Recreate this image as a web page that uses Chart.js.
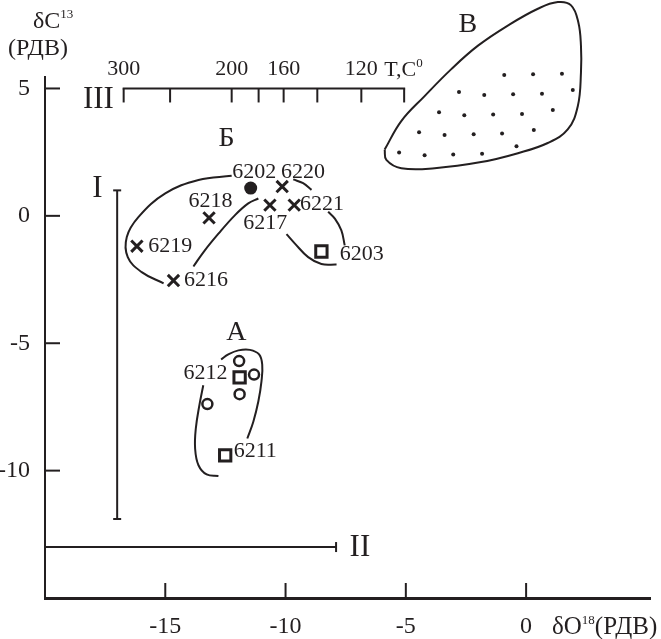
<!DOCTYPE html>
<html>
<head>
<meta charset="utf-8">
<script src="https://cdn.jsdelivr.net/npm/chart.js@4.4.1/dist/chart.umd.min.js"></script>
<style>
body { margin: 0; background: #fff; }
</style>
</head>
<body>
<canvas id="graph_isotope" width="661" height="639"></canvas>
<script>

const xTicks = [-15, -10, -5, 0];
const yTicks = [-10, -5, 0, 5];

// группа Б
const crossPts = [[-10.14, 1.15], [-13.18, -0.08], [-10.65, 0.42], [-9.64, 0.42], [-16.18, -1.19], [-14.66, -2.54]];
const dotPts = [[-11.45, 1.09]];
const squarePts = [[-8.51, -1.40], [-11.91, -6.34], [-12.51, -9.40]];
// группа А
const circlePts = [[-11.93, -5.70], [-11.31, -6.23], [-11.91, -7.00], [-13.25, -7.39]];
// поле В
const fieldV = [
	[0.53, 8.02], [1.59, 7.91],
	[-0.30, 7.23], [0.76, 7.11], [1.95, 7.15],
	[-1.13, 6.44], [-0.08, 6.32], [1.12, 6.35],
	[-1.96, 5.65], [-0.91, 5.53], [0.29, 5.56], [1.49, 5.58],
	[-2.79, 4.86], [-1.74, 4.74], [-0.54, 4.77], [0.66, 4.79], [1.94, 4.94],
	[-3.62, 4.07], [-2.57, 3.95], [-1.37, 3.98], [-0.17, 4.00], [1.11, 4.15],
	[-4.45, 3.28], [-3.39, 3.17], [-2.18, 3.20], [-1.00, 3.23], [0.32, 3.37],
	[-5.28, 2.49], [-4.22, 2.38], [-3.03, 2.41], [-1.83, 2.44], [-0.40, 2.73]
];

// контуры
const contourV = [[-5.88, 2.60], [-5.19, 3.72], [-4.22, 4.70], [-3.11, 5.76], [-2.00, 6.68], [-0.76, 7.47], [0.49, 8.13], [1.32, 8.39], [1.87, 8.26], [2.17, 7.60], [2.28, 6.68], [2.28, 5.62], [2.15, 4.31], [1.73, 3.39], [0.90, 2.86], [-0.34, 2.46], [-1.87, 2.11], [-3.80, 1.87], [-5.19, 1.87], [-5.81, 2.20], [-5.88, 2.60]];
const contourB1 = [[-12.24, 1.57], [-13.62, 1.41], [-15.00, 0.88], [-16.11, -0.04], [-16.60, -0.83], [-16.56, -1.62], [-15.98, -2.21], [-15.07, -2.65]];
const contourB2 = [[-13.83, -1.99], [-13.41, -1.42], [-12.79, -0.70], [-12.10, 0.03], [-11.55, 0.49], [-11.13, 0.68]];
const contourB3 = [[-9.96, -0.72], [-9.61, -1.09], [-9.06, -1.62], [-8.51, -1.89], [-7.88, -1.91]];
const contourB4 = [[-7.54, -1.16], [-7.68, -0.57], [-7.95, -0.11], [-8.23, 0.16]];
const contourB5 = [[-9.68, 1.43], [-9.27, 1.28], [-8.92, 1.02]];
const contourA1 = [[-13.42, -6.65], [-13.58, -7.42], [-13.73, -8.34], [-13.76, -9.13], [-13.62, -9.79], [-13.28, -10.15], [-12.79, -10.21]];
const contourA2 = [[-11.59, -8.74], [-11.34, -8.08], [-11.13, -7.28], [-11.00, -6.49], [-10.97, -5.84], [-11.10, -5.44], [-11.48, -5.26], [-11.96, -5.28], [-12.38, -5.44], [-12.68, -5.64]];

// интервалы I, II и шкала температур III
const barI = {x: -17, from: -11.9, to: 1.0};
const barII = {y: -13, from: -20, to: -7.9};
const tempY = 5.0;
const tempX = [-16.73, -14.80, -12.24, -11.12, -10.08, -8.68, -6.85, -5.07];
const tempLabels = ['300', '', '200', '', '160', '', '120', ''];

// подписи
const sampleLabels = [
	['6202', -11.30, 1.70], ['6220', -9.28, 1.70], ['6218', -13.12, 0.59], ['6217', -10.84, -0.28],
	['6221', -8.48, 0.45], ['6219', -14.79, -1.19], ['6216', -13.31, -2.51], ['6203', -6.83, -1.52],
	['6212', -13.33, -6.17], ['6211', -11.26, -9.23]
];
const groupLabels = [['Б', -12.45, 3.05], ['А', -12.05, -4.58], ['В', -2.42, 7.51]];
const romanLabels = [['I', -17.82, 1.07], ['II', -6.91, -13.04], ['III', -17.78, 4.55]];

const ink = '#231f20';
const serif = "'Liberation Serif', 'Times New Roman', serif";

function xy(arr) {
	return arr.map(p => ({x: p[0], y: p[1]}));
}

function curve(arr) {
	return {
		data: xy(arr), showLine: true, tension: 0.4, fill: false,
		borderColor: ink, borderWidth: 2, pointRadius: 0, clip: false
	};
}

function seg(c, x1, y1, x2, y2) {
	c.beginPath();
	c.moveTo(x1, y1);
	c.lineTo(x2, y2);
	c.stroke();
}

// текст с верхним индексом: [текст, размер, подъём]
function rich(c, parts, x, y) {
	parts.forEach(p => {
		c.font = p[1] + 'px ' + serif;
		c.fillText(p[0], x, y - (p[2] || 0));
		x += c.measureText(p[0]).width;
	});
}

const extras = {
	id: 'extras',
	afterDatasetsDraw(chart) {
		const c = chart.ctx;
		const sx = chart.scales.x, sy = chart.scales.y;
		const X = v => sx.getPixelForValue(v), Y = v => sy.getPixelForValue(v);
		const a = chart.chartArea;
		c.save();
		c.strokeStyle = ink;
		c.fillStyle = ink;

		// внутренние засечки осей
		c.lineWidth = 2;
		xTicks.forEach(v => seg(c, X(v), a.bottom, X(v), a.bottom - 15));
		yTicks.forEach(v => seg(c, a.left, Y(v), a.left + 15, Y(v)));

		// I
		seg(c, X(barI.x), Y(barI.from), X(barI.x), Y(barI.to));
		seg(c, X(barI.x) - 4, Y(barI.from), X(barI.x) + 4, Y(barI.from));
		seg(c, X(barI.x) - 4, Y(barI.to), X(barI.x) + 4, Y(barI.to));
		// II
		seg(c, X(barII.from), Y(barII.y), X(barII.to), Y(barII.y));
		seg(c, X(barII.to), Y(barII.y) - 5, X(barII.to), Y(barII.y) + 5);
		// III
		seg(c, X(tempX[0]) - 1, Y(tempY), X(tempX[tempX.length - 1]) + 1, Y(tempY));
		tempX.forEach(v => seg(c, X(v), Y(tempY), X(v), Y(tempY) + 14));

		c.textAlign = 'center';
		c.textBaseline = 'middle';
		c.font = '22px ' + serif;
		tempX.forEach((v, i) => {
			if (tempLabels[i]) c.fillText(tempLabels[i], X(v), Y(tempY) - 19);
		});
		sampleLabels.forEach(l => c.fillText(l[0], X(l[1]), Y(l[2])));
		c.font = '28px ' + serif;
		groupLabels.forEach(l => c.fillText(l[0], X(l[1]), Y(l[2])));
		c.font = '31px ' + serif;
		romanLabels.forEach(l => c.fillText(l[0], X(l[1]), Y(l[2])));

		c.textAlign = 'left';
		c.textBaseline = 'alphabetic';
		rich(c, [['T,C', 22], ['0', 13, 9]], X(-5.90), Y(tempY) - 12);
		rich(c, [['δC', 24], ['13', 13, 10]], 33, 28);
		rich(c, [['(РДВ)', 24]], 8, 55);
		rich(c, [['δO', 25], ['18', 13, 10], ['(РДВ)', 25]], 552, 634);
		c.restore();
	}
};

const ctx = document.getElementById('graph_isotope');
const chart = new Chart(ctx, {
	type: 'scatter',
	data: {
		datasets: [
			curve(contourV), curve(contourB1), curve(contourB2), curve(contourB3),
			curve(contourB4), curve(contourB5), curve(contourA1), curve(contourA2),
			{
				data: xy(fieldV), pointStyle: 'circle', pointRadius: 2,
				backgroundColor: ink, borderWidth: 0, clip: false
			},
			{
				data: xy(crossPts), pointStyle: 'crossRot', pointRadius: 8,
				borderColor: ink, borderWidth: 3
			},
			{
				data: xy(dotPts), pointStyle: 'circle', pointRadius: 6.5,
				backgroundColor: ink, borderWidth: 0
			},
			{
				data: xy(squarePts), pointStyle: 'rect', pointRadius: 8,
				backgroundColor: '#fff', borderColor: ink, borderWidth: 3
			},
			{
				data: xy(circlePts), pointStyle: 'circle', pointRadius: 5,
				backgroundColor: '#fff', borderColor: ink, borderWidth: 2.5
			}
		]
	},
	options: {
		responsive: false,
		animation: false,
		events: [],
		layout: {padding: {top: 77, right: 9, left: 0, bottom: 0}},
		plugins: {legend: {display: false}, tooltip: {enabled: false}},
		scales: {
			x: {
				type: 'linear', min: -20, max: 5.15,
				afterBuildTicks: s => { s.ticks = xTicks.map(v => ({value: v})); },
				afterFit: s => { s.height = 41; },
				grid: {display: false, drawTicks: false},
				border: {display: true, color: ink, width: 3},
				ticks: {color: ink, font: {family: serif, size: 24}, padding: 14, maxRotation: 0, autoSkip: false}
			},
			y: {
				type: 'linear', min: -15, max: 5.45,
				afterBuildTicks: s => { s.ticks = yTicks.map(v => ({value: v})); },
				afterFit: s => { s.width = 45; },
				grid: {display: false, drawTicks: false},
				border: {display: true, color: ink, width: 2},
				ticks: {color: ink, font: {family: serif, size: 24}, padding: 15, autoSkip: false}
			}
		}
	},
	plugins: [extras]
});

</script>
</body>
</html>
